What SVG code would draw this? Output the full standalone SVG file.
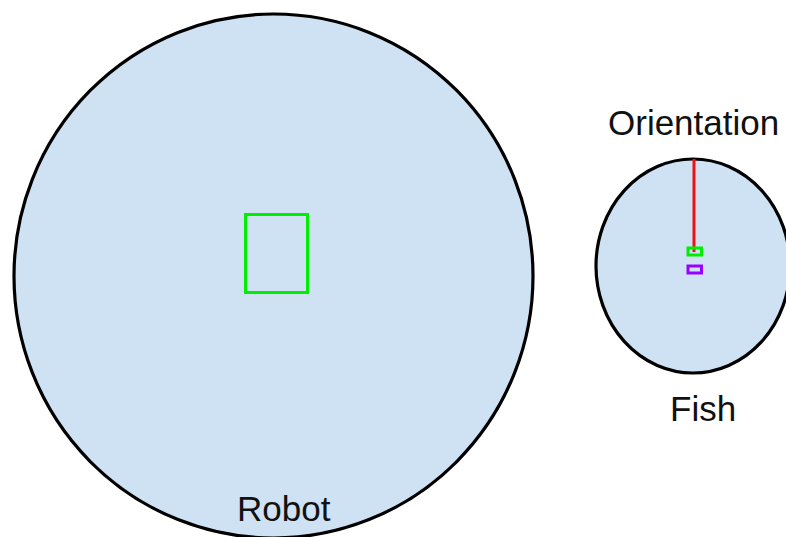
<svg xmlns="http://www.w3.org/2000/svg" width="786" height="537" viewBox="0 0 786 537">
<style>
.body{fill:#cfe2f3;stroke:#000;stroke-width:3.2}
.lbl{font-family:"Liberation Sans",Arial,sans-serif;font-size:35px;fill:#111}
.grn{fill:none;stroke:#00ee00;stroke-width:3}
.pur{fill:none;stroke:#9900ff;stroke-width:3}
</style>
<rect width="786" height="537" fill="#fff"/>
<g id="robot">
<ellipse class="body" cx="273.5" cy="276" rx="259.5" ry="262"/>
<rect class="grn" x="245.5" y="214.5" width="62" height="78"/>
<text class="lbl" x="237" y="521">Robot</text>
</g>
<g id="fish">
<ellipse class="body" cx="693" cy="266" rx="97" ry="107"/>
<text class="lbl" x="670" y="421">Fish</text>
</g>
<g id="orientation">
<text class="lbl" x="608" y="135">Orientation</text>
</g>
<g id="connectors">
<line x1="694" y1="159" x2="694" y2="252" stroke="#ee1111" stroke-width="3"/>
<rect class="grn" x="688" y="248" width="13.5" height="7"/>
<rect class="pur" x="688" y="266" width="13.5" height="7"/>
</g>
</svg>
